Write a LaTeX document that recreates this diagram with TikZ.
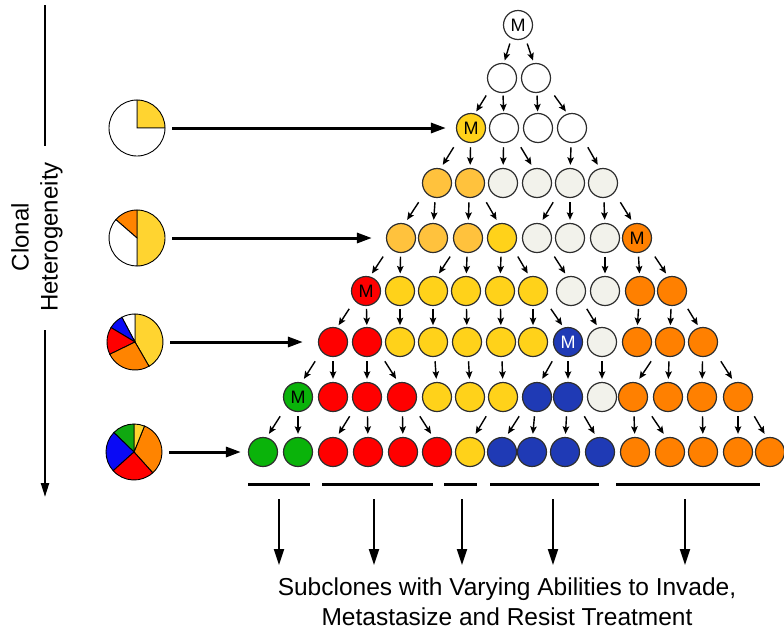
\documentclass[tikz,border=0pt]{standalone}
\usepackage{fontspec}
\setmainfont{Liberation Sans}
\usetikzlibrary{arrows.meta,calc}

\definecolor{paleC}{HTML}{F2F2EB}
\definecolor{lorgC}{HTML}{FFC23D}
\definecolor{ylwC}{HTML}{FFD21A}
\definecolor{orgC}{HTML}{FF8000}
\definecolor{bluC}{HTML}{1F3AB5}
\definecolor{grnC}{HTML}{0AB30A}
\definecolor{pieY}{HTML}{FFD430}
\definecolor{pieO}{HTML}{FF8400}
\definecolor{pieB}{HTML}{0A0AF5}
\definecolor{pieG}{HTML}{10A810}
\definecolor{rimC}{HTML}{2E2E2E}

\tikzset{
  cell/.style={circle, draw=rimC, line width=1.2pt, minimum size=29pt, inner sep=0pt, font=\fontsize{18}{18}\selectfont},
  wcell/.style={cell, fill=white},
  pcell/.style={cell, fill=paleC},
  lcell/.style={cell, fill=lorgC},
  ycell/.style={cell, fill=ylwC},
  ocell/.style={cell, fill=orgC},
  rcell/.style={cell, fill=red},
  bcell/.style={cell, fill=bluC, text=white},
  gcell/.style={cell, fill=grnC},
  kid/.style={-{Stealth[length=7.5pt,width=6.5pt,inset=1.5pt]}, line width=1.4pt},
  feed/.style={-{Triangle[length=15pt,width=10pt]}, line width=3pt},
  outflow/.style={-{Triangle[length=16pt,width=10pt]}, line width=2pt},
  pie/.style={circle, minimum size=56pt, inner sep=0pt},
  slice/.style={draw=black, line width=0.9pt},
}

\begin{document}
\begin{tikzpicture}[x=1pt,y=-1pt]
\useasboundingbox (0,0) rectangle (784,635);

% the clone tree, row by row
\node[wcell] (r0c1) at (518,25) {M};
\foreach \x [count=\i] in {502,536} \node[wcell] (r1c\i) at (\x,78) {};
\foreach \x/\sty/\lbl [count=\i] in {471/ycell/M,504/wcell/{},538/wcell/{},572/wcell/{}}
  \node[\sty] (r2c\i) at (\x,128) {\lbl};
\foreach \x/\sty [count=\i] in {437/lcell,470/lcell,503/pcell,537/pcell,570/pcell,603/pcell}
  \node[\sty] (r3c\i) at (\x,183) {};
\foreach \x/\sty/\lbl [count=\i] in {401/lcell/{},433/lcell/{},468/lcell/{},502/ycell/{},537/pcell/{},570/pcell/{},605/pcell/{},637/ocell/M}
  \node[\sty] (r4c\i) at (\x,238) {\lbl};
\foreach \x/\sty/\lbl [count=\i] in {366/rcell/M,400/ycell/{},433/ycell/{},466/ycell/{},500/ycell/{},533/ycell/{},571/pcell/{},605/pcell/{},640/ocell/{},672/ocell/{}}
  \node[\sty] (r5c\i) at (\x,291) {\lbl};
\foreach \x/\sty/\lbl [count=\i] in {333/rcell/{},367/rcell/{},400/ycell/{},433/ycell/{},467/ycell/{},501/ycell/{},533/ycell/{},568/bcell/M,602/pcell/{},637/ocell/{},670/ocell/{},703/ocell/{}}
  \node[\sty] (r6c\i) at (\x,342) {\lbl};
\foreach \x/\sty/\lbl [count=\i] in {298/gcell/M,333/rcell/{},367/rcell/{},402/rcell/{},437/ycell/{},470/ycell/{},503/ycell/{},537/bcell/{},568/bcell/{},602/pcell/{},633/ocell/{},668/ocell/{},702/ocell/{},738/ocell/{}}
  \node[\sty] (r7c\i) at (\x,397) {\lbl};
\foreach \x/\sty [count=\i] in {263/gcell,298/gcell,333/rcell,368/rcell,403/rcell,437/rcell,470/ycell,502/bcell,532/bcell,565/bcell,600/bcell,635/ocell,670/ocell,703/ocell,738/ocell,770/ocell}
  \node[\sty] (r8c\i) at (\x,452) {};

% parent -> daughter
\foreach \a/\b in {r0c1/r1c1,r0c1/r1c2,
  r1c1/r2c1,r1c1/r2c2,r1c2/r2c3,r1c2/r2c4,
  r2c1/r3c1,r2c1/r3c2,r2c2/r3c3,r2c2/r3c4,r2c4/r3c5,r2c4/r3c6,
  r3c1/r4c1,r3c1/r4c2,r3c2/r4c3,r3c2/r4c4,r3c5/r4c5,r3c5/r4c6,r3c6/r4c7,r3c6/r4c8,
  r4c1/r5c1,r4c1/r5c2,r4c3/r5c3,r4c3/r5c4,r4c4/r5c5,r4c4/r5c6,r4c5/r5c7,r4c7/r5c8,r4c8/r5c9,r4c8/r5c10,
  r5c1/r6c1,r5c1/r6c2,r5c2/r6c3,r5c3/r6c4,r5c4/r6c5,r5c5/r6c6,r5c6/r6c7,r5c6/r6c8,r5c7/r6c9,r5c9/r6c10,r5c10/r6c11,r5c10/r6c12,
  r6c1/r7c1,r6c1/r7c2,r6c2/r7c3,r6c2/r7c4,r6c4/r7c5,r6c5/r7c6,r6c6/r7c7,r6c8/r7c8,r6c8/r7c9,r6c9/r7c10,r6c11/r7c11,r6c11/r7c12,r6c12/r7c13,r6c12/r7c14,
  r7c1/r8c1,r7c1/r8c2,r7c3/r8c3,r7c3/r8c4,r7c4/r8c5,r7c4/r8c6,r7c7/r8c7,r7c8/r8c8,r7c8/r8c9,r7c9/r8c10,r7c9/r8c11,r7c11/r8c12,r7c11/r8c13,r7c13/r8c14,r7c14/r8c15,r7c14/r8c16}
  \draw[kid] ($(\a)!.35!(\b) + 0.16*(\b|-\a) - 0.16*(\a)$) -- ($(\a)!.67!(\b) + 0.16*(\b|-\a) - 0.16*(\a)$);

% pie charts
\node[pie] (pie1) at (137,128) {};
\node[pie] (pie2) at (137,238) {};
\node[pie] (pie3) at (135,342) {};
\node[pie] (pie4) at (134,452) {};
\foreach \p/\sl in {pie1/{0/90/pieY,90/360/white},
  pie2/{-90/90/pieY,90/139/pieO,139/270/white},
  pie3/{-60/90/pieY,90/118/white,118/149/pieB,149/206/red,206/300/pieO},
  pie4/{-48/68/pieO,68/90/pieY,90/136/pieG,136/222/pieB,222/312/red}}{
  \begin{scope}[shift={(\p)}, yscale=-1]
    \foreach \s/\e/\c in \sl
      \filldraw[slice, fill=\c] (0,0) -- (\s:28) arc[start angle=\s, end angle=\e, radius=28] -- cycle;
  \end{scope}
}

\foreach \i/\cell/\gap in {1/r2c1/10,2/r4c1/14,3/r6c1/15,4/r8c1/7}
  \draw[feed, shorten <=7pt, shorten >=\gap pt] (pie\i) -- (\cell);

% time axis
\coordinate (ax1) at (45,5);
\coordinate (ax2) at (45,146);
\coordinate (ax3) at (45,330);
\coordinate (ax4) at (45,497);
\draw[line width=2.2pt] (ax1) -- (ax2);
\draw[line width=2.2pt, -{Triangle[length=14pt,width=8pt]}] (ax3) -- (ax4);
\node[rotate=90, align=center, font=\fontsize{24}{29}\selectfont] (hetero) at (37,237) {Clonal\\Heterogeneity};

% subclone groups
\foreach \a/\b in {248/310,322/433,444/477,490/599,616/760}
  \draw[line width=3pt] (\a,484) -- (\b,484);
\foreach \x [count=\i] in {279,374,462,553,685}{
  \coordinate (grp\i) at (\x,499);
  \draw[outflow] (grp\i) -- ++(0,66);
}
\node[align=center, font=\fontsize{24.5}{30}\selectfont] (subclones) at (507,602) {Subclones with Varying Abilities to Invade,\\Metastasize and Resist Treatment};
\end{tikzpicture}
\end{document}
